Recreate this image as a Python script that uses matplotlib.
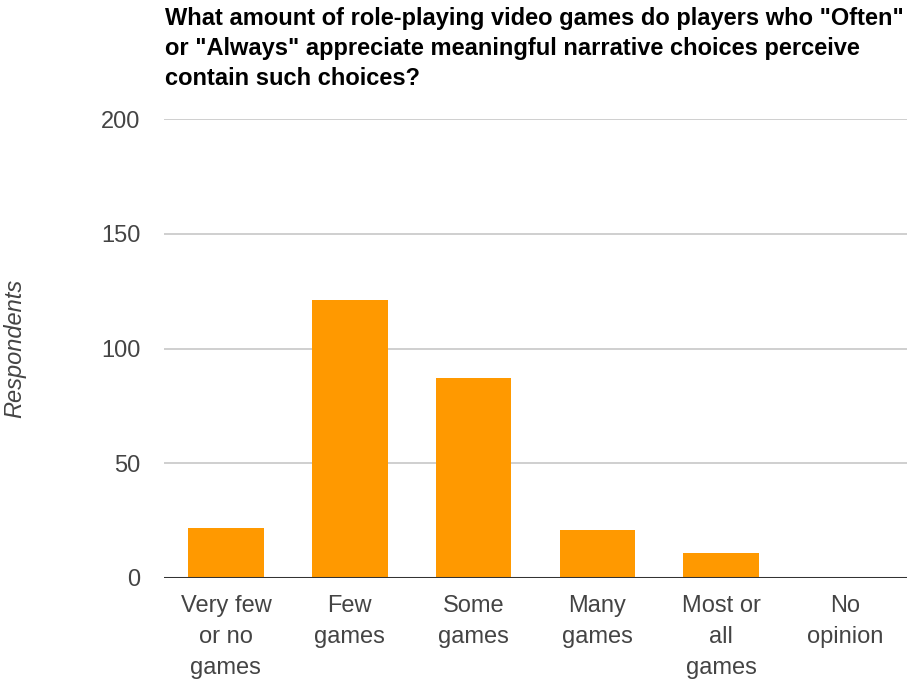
import matplotlib
matplotlib.use("Agg")
import matplotlib.pyplot as plt

categories = ["Very few\nor no\ngames", "Few\ngames", "Some\ngames", "Many\ngames", "Most or\nall\ngames", "No\nopinion"]
respondents = [22, 121, 87, 21, 11, 0]
y_ticks = [0, 50, 100, 150, 200]
title = ('What amount of role-playing video games do players who "Often"\n'
         'or "Always" appreciate meaningful narrative choices perceive\n'
         'contain such choices?')

plt.rcParams["font.family"] = ["Liberation Sans", "DejaVu Sans"]

fig = plt.figure(figsize=(9.07, 6.83), dpi=100)
ax = fig.add_axes([164 / 907, 1 - 578 / 683, 1 - 164 / 907, (578 - 119) / 683])

x = list(range(len(categories)))
ax.bar(x, respondents, width=0.61, color="#ff9900", zorder=3)

ax.set_xlim(-0.5, len(categories) - 0.5)
ax.set_ylim(0, 200)
ax.set_yticks(y_ticks)
ax.set_yticklabels([str(v) for v in y_ticks])
ax.set_xticks(x)
ax.set_xticklabels(categories, linespacing=1.55)

ax.grid(axis="y", color="#cccccc", linewidth=1.3, zorder=0)
ax.axhline(0, color="#333333", linewidth=2.2, zorder=4)
for s in ax.spines.values():
    s.set_visible(False)
ax.tick_params(axis="both", length=0, labelsize=17, labelcolor="#444444")
ax.tick_params(axis="y", pad=17)
ax.tick_params(axis="x", pad=12)

fig.text(15 / 907, 1 - 348 / 683, "Respondents", rotation=90, ha="center", va="center",
         fontsize=17, style="italic", color="#444444")

fig.text(165 / 907, 1 - 7 / 683, title, ha="left", va="top", fontsize=17,
         fontweight="bold", color="#000000", linespacing=1.4)

fig.savefig("out.png", dpi=100)
